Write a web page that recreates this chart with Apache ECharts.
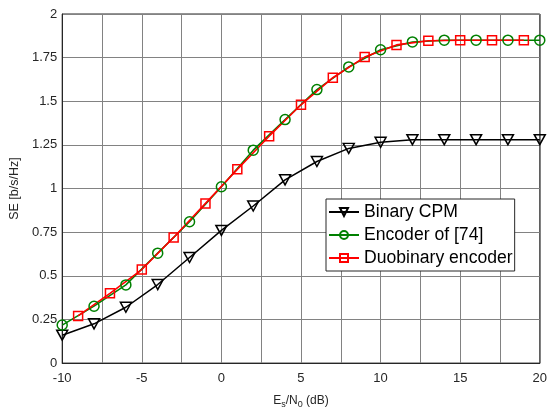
<!DOCTYPE html>
<html>
<head>
<meta charset="utf-8">
<script src="https://cdn.jsdelivr.net/npm/echarts@6/dist/echarts.min.js"></script>
<style>
html,body{margin:0;padding:0;background:#fff;}
#chart{width:550px;height:414px;}
</style>
</head>
<body>
<div id="chart"></div>
<script>
// Data
const xEven = [-10, -8, -6, -4, -2, 0, 2, 4, 6, 8, 10, 12, 14, 16, 18, 20];
const xOdd = [-9, -7, -5, -3, -1, 1, 3, 5, 7, 9, 11, 13, 15, 17, 19];
const binaryCPM = [0.16, 0.225, 0.32, 0.45, 0.605, 0.76, 0.90, 1.05, 1.155, 1.23, 1.265, 1.28, 1.28, 1.28, 1.28, 1.28];
const encoder74 = [0.218, 0.326, 0.448, 0.63, 0.81, 1.01, 1.22, 1.395, 1.567, 1.697, 1.795, 1.84, 1.85, 1.85, 1.85, 1.85];
const duobinary = [0.27, 0.40, 0.536, 0.72, 0.915, 1.11, 1.30, 1.48, 1.635, 1.753, 1.823, 1.847, 1.85, 1.85, 1.85];
const seriesNames = ['Binary CPM', 'Encoder of [74]', 'Duobinary encoder'];

const pair = (xs, ys) => xs.map((x, i) => [x, ys[i]]);
const FONT = 'Liberation Sans, Arial, sans-serif';
const TXT = '#262626';

const chart = echarts.init(document.getElementById('chart'), null, {renderer: 'canvas'});
chart.setOption({
  backgroundColor: '#ffffff',
  animation: false,
  grid: {left: 61, top: 14, width: 480, height: 355, show: true, borderColor: TXT, borderWidth: 1, backgroundColor: 'transparent'},
  xAxis: {
    type: 'value', min: -10, max: 20, interval: 2.5,
    axisLine: {show: true, onZero: false, lineStyle: {color: TXT}},
    axisTick: {show: false},
    splitLine: {show: true, lineStyle: {color: '#828282', width: 1}},
    axisLabel: {color: TXT, fontFamily: FONT, fontSize: 13, margin: 9,
      formatter: v => (Math.abs(v % 5) < 1e-9 ? String(v) : '')},
    name: '{m|E}{s|s}{m|/N}{s|0}{m| (dB)}',
    nameLocation: 'middle', nameGap: 18,
    nameTextStyle: {color: TXT, fontFamily: FONT, rich: {
      m: {fontSize: 12, fontFamily: FONT, color: TXT, lineHeight: 14, verticalAlign: 'top'},
      s: {fontSize: 9, fontFamily: FONT, color: TXT, lineHeight: 9, verticalAlign: 'bottom', padding: [10, 0, 0, 0]}
    }}
  },
  yAxis: {
    type: 'value', min: 0, max: 2, interval: 0.25,
    axisLine: {show: true, onZero: false, lineStyle: {color: TXT}},
    axisTick: {show: false},
    splitLine: {show: true, lineStyle: {color: '#828282', width: 1}},
    axisLabel: {color: TXT, fontFamily: FONT, fontSize: 13, margin: 5},
    name: 'SE [b/s/Hz]', nameLocation: 'middle', nameGap: 36,
    nameTextStyle: {color: TXT, fontFamily: FONT, fontSize: 12.5}
  },
  legend: {
    orient: 'vertical', left: 326, top: 199,
    backgroundColor: '#ffffff', borderColor: TXT, borderWidth: 1,
    padding: [4, 2, 4, 2], itemGap: 5, itemWidth: 30, itemHeight: 10,
    textStyle: {color: '#000', fontFamily: FONT, fontSize: 17.6},
    data: seriesNames
  },
  series: [
    {
      name: seriesNames[0], type: 'line', data: pair(xEven, binaryCPM),
      smooth: false,
      symbol: 'triangle', symbolRotate: 180, symbolSize: [11, 10],
      lineStyle: {color: '#000', width: 1.5},
      itemStyle: {color: 'rgba(255,255,255,0)', borderColor: '#000', borderWidth: 1.5}
    },
    {
      name: seriesNames[1], type: 'line', data: pair(xEven, encoder74),
      smooth: false,
      symbol: 'circle', symbolSize: 10,
      lineStyle: {color: '#008000', width: 1.5},
      itemStyle: {color: 'rgba(255,255,255,0)', borderColor: '#008000', borderWidth: 1.5}
    },
    {
      name: seriesNames[2], type: 'line', data: pair(xOdd, duobinary),
      smooth: false,
      symbol: 'rect', symbolSize: 9,
      lineStyle: {color: '#ff0000', width: 1.6},
      itemStyle: {color: 'rgba(255,255,255,0)', borderColor: '#ff0000', borderWidth: 1.5}
    }
  ]
});
</script>
</body>
</html>
